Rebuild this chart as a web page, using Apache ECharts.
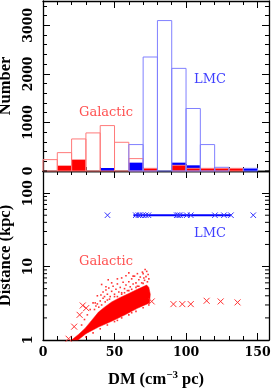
<!DOCTYPE html>
<html><head><meta charset="utf-8">
<script src="https://cdn.jsdelivr.net/npm/echarts@6/dist/echarts.min.js"></script>
<style>html,body{margin:0;padding:0;background:#fff}#c{width:273px;height:390px}</style>
</head><body><div id="c"></div>
<script>
// ---- data ----
const binStarts = [0,10,20,30,40,50,60,70,80,90,100,110,120,130,140,150];
const binWidth = 10;
const galacticTotal = [234,378,660,784,935,591,255,55,0,117,55,55,55,55,0,0];
const lmcTotal      = [0,0,0,0,0,0,544,2347,3097,2113,1287,544,76,0,55,0];
const galacticKnown = [0,110,234,0,0,0,0,55,0,117,55,55,55,55,0,0];
const lmcKnown      = [0,0,0,0,62,0,172,0,0,172,117,0,0,0,55,0];

// bottom panel
const galacticCloudOutline = [
  [20,1.0],[25,1.2],[29.5,1.45],[34,1.85],[38.8,2.4],[43,2.8],[48,3.3],[54,3.8],[60,4.3],[66,4.9],[72.5,5.6],[74,5.2],
  [75,4.2],[74.5,3.2],[66,2.7],[57.4,2.2],[48,1.8],[38.8,1.5],[30,1.22],[24.5,1.0]
];
const galacticDots = [
  [36,2.6],[37,2.9],[38,3.1],[39,2.8],[40,3.4],[41,3.0],[42,3.7],[36.5,3.2],
  [40.5,4.1],[42,4.5],[43,3.9],[44,4.8],[45,4.2],[46,5.1],[47,3.9],[48,4.6],[49,5.4],[50,4.2],[51,4.9],[52,5.8],
  [53,4.5],[54,5.2],[55,4.4],[56,6.1],[57,5.0],[58,5.6],[59,4.7],
  [60,6.2],[61,5.3],[62,6.8],[63,5.8],[64,7.4],[65,6.0],[66,5.4],[67,6.6],[68,7.2],[69,6.0],[70,8.0],[71,6.5],
  [72,7.3],[73,6.2],[73.5,7.8],[74,6.8],[72.5,8.6],[71.4,9.1],[70.5,7.0],[69.5,8.4],
  [41,5.7],[45.6,6.6],[55,7.0],[63,7.4],[48,6.0],[52,6.8],[58,7.5],[60,8.2],[66,8.0],[44,5.3],[38,4.0],[35,3.2],
  [33,2.6],[31,2.2],[29,1.9],[27,1.6],
  [45,3.5],[50,3.9],[55,4.2],[60,4.7],[65,5.2],[70,5.9],[52,3.9],[57,4.4],[62,4.9],[67,5.4],[46.5,3.6],[43.5,3.3],
  [30,1.1],[35,1.25],[40,1.42],[45,1.6],[50,1.78],[55,2.0],[60,2.2],[65,2.45],[70,2.75],[74,3.0],[62,2.35],[52,1.85]
];
const galacticCrosses = [[17.9,1.04],[21.8,1.52],[25.6,2.2],[27.8,2.95],[30.2,2.72],[76,3.35],[91.2,3.08],[97.4,3.08],[103.3,3.08],[114.4,3.42],[124.2,3.35],[136,3.25]];
const lmcLine = [[63.2,50],[131.4,50]];
const lmcCrosses = [[45.1,50],[64.9,50],[66.7,50],[67.9,50],[69.8,50],[71.9,50],[73.7,50],[93.5,50],[94.6,50],[95.8,50],[100.5,50],[103.3,50],[120.2,50],[126.5,50],[131.4,50],[147,50]];
const logMinorTicks = [2,3,4,5,6,7,8,9,20,30,40,50,60,70,80,90,200];

// ---- styles ----
const RED='#ff0000', BLUE='#0000ff', REDL='#ff7a7a', BLUEL='#8080ff';
const tickFont = {fontFamily:'DejaVu Serif', fontWeight:'bold', fontSize:12.5, color:'#000'};
const titleFont = {fontFamily:'Liberation Serif', fontWeight:'bold', fontSize:16.5, color:'#000'};
const XMAX=158;
const plain = v => String(v);

function histSeries(vals, fill, stroke, z){
  return {type:'custom', xAxisIndex:0, yAxisIndex:0, z:z, silent:true,
    data: binStarts.map((b,i)=>[b, vals[i]]).filter(d=>d[1]>0),
    renderItem:function(params, api){
      const x0=api.value(0), v=api.value(1);
      const p0=api.coord([x0, v]), p1=api.coord([x0+binWidth, 0]);
      return {type:'rect', shape:{x:p0[0], y:p0[1], width:p1[0]-p0[0], height:p1[1]-p0[1]},
        style:{fill: fill||'none', stroke: stroke||'none', lineWidth:1}};
    }};
}
function crossSeries(data, color, size){
  return {type:'custom', xAxisIndex:2, yAxisIndex:2, z:5, silent:true, data:data,
    renderItem:function(params, api){
      const p=api.coord([api.value(0), api.value(1)]); const s=size/2;
      return {type:'group', children:[
        {type:'line', shape:{x1:p[0]-s,y1:p[1]-s,x2:p[0]+s,y2:p[1]+s}, style:{stroke:color, lineWidth:1}},
        {type:'line', shape:{x1:p[0]-s,y1:p[1]+s,x2:p[0]+s,y2:p[1]-s}, style:{stroke:color, lineWidth:1}}
      ]};
    }};
}
function frameAxis(o){
  return Object.assign({
    axisLine:{show:true, onZero:false, lineStyle:{color:'#000', width:1.3}},
    axisTick:{show:true, inside:true, length:7, lineStyle:{color:'#000', width:1}},
    minorTick:{show:true, splitNumber:5, length:4, lineStyle:{color:'#000', width:1}},
    splitLine:{show:false}, axisLabel:{show:false}
  }, o);
}

const grids = [
  {left:43, top:1, width:226, height:170, outerBoundsMode:'none', containLabel:false},
  {left:43, top:171, width:226, height:169, outerBoundsMode:'none', containLabel:false}
];
const xCommon = {type:'value', min:0, max:XMAX, interval:50};
const option = {
  animation:false,
  grid: grids,
  xAxis: [
    frameAxis(Object.assign({gridIndex:0, position:'bottom'}, xCommon)),
    frameAxis(Object.assign({gridIndex:0, position:'top'}, xCommon)),
    frameAxis(Object.assign({gridIndex:1, position:'bottom',
      axisLabel:Object.assign({show:true, margin:6, showMaxLabel:false, formatter:plain}, tickFont),
      name:'DM (cm{sup|−3} pc)', nameLocation:'middle', nameGap:30,
      nameTextStyle:Object.assign({rich:{sup:{fontFamily:'Liberation Serif', fontWeight:'bold', fontSize:11, verticalAlign:'top', padding:[0,0,9,0]}}}, titleFont)
    }, xCommon)),
    frameAxis(Object.assign({gridIndex:1, position:'top'}, xCommon))
  ],
  yAxis: [
    frameAxis({gridIndex:0, type:'value', min:0, max:3500, interval:1000, position:'left',
      axisLabel:Object.assign({show:true, rotate:90, margin:8, showMaxLabel:false, showMinLabel:true, formatter:plain}, tickFont),
      name:'Number', nameLocation:'middle', nameGap:29, nameRotate:90, nameTextStyle:titleFont}),
    frameAxis({gridIndex:0, type:'value', min:0, max:3500, interval:1000, position:'right'}),
    frameAxis({gridIndex:1, type:'log', logBase:10, min:1, max:200, position:'left',
      minorTick:{show:false},
      axisLabel:Object.assign({show:true, rotate:90, margin:8, showMaxLabel:false, formatter:plain}, tickFont),
      name:'Distance (kpc)', nameLocation:'middle', nameGap:29, nameRotate:90, nameTextStyle:titleFont}),
    frameAxis({gridIndex:1, type:'log', logBase:10, min:1, max:200, position:'right', minorTick:{show:false}})
  ],
  series: [
    histSeries(lmcKnown, BLUE, null, 2),
    histSeries(galacticKnown, RED, null, 3),
    histSeries(galacticTotal, null, REDL, 4),
    histSeries(lmcTotal, null, BLUEL, 4),
    // log minor ticks
    {type:'custom', xAxisIndex:2, yAxisIndex:2, z:6, silent:true, data:logMinorTicks.map(v=>[0,v]),
      renderItem:function(params, api){
        const a=api.coord([0, api.value(1)]), b=api.coord([XMAX, api.value(1)]);
        return {type:'group', children:[
          {type:'line', shape:{x1:a[0],y1:a[1],x2:a[0]+4,y2:a[1]}, style:{stroke:'#000', lineWidth:1}},
          {type:'line', shape:{x1:b[0],y1:b[1],x2:b[0]-4,y2:b[1]}, style:{stroke:'#000', lineWidth:1}}
        ]};
      }},
    // galactic cloud core
    {type:'custom', xAxisIndex:2, yAxisIndex:2, z:3, silent:true, data:[0],
      renderItem:function(params, api){
        if (params.dataIndex!==0) return;
        const pts = galacticCloudOutline.map(p=>api.coord(p));
        return {type:'polygon', shape:{points:pts}, style:{fill:RED, stroke:RED, lineWidth:0.5}};
      }},
    {type:'scatter', xAxisIndex:2, yAxisIndex:2, z:3, silent:true, symbol:'rect', symbolSize:1.6,
      itemStyle:{color:RED}, data:galacticDots},
    {type:'line', xAxisIndex:2, yAxisIndex:2, z:4, silent:true, symbol:'none',
      lineStyle:{color:BLUE, width:2}, data:lmcLine},
    crossSeries(galacticCrosses, '#ff3030', 6),
    crossSeries(lmcCrosses, '#3030ff', 5.5)
  ],
  graphic: [
    {type:'text', left:79, top:106, style:{text:'Galactic', fill:'#ff5050', font:'13px "DejaVu Serif"'}},
    {type:'text', left:194, top:73, style:{text:'LMC', fill:'#4040ff', font:'13px "DejaVu Serif"'}},
    {type:'text', left:79, top:255, style:{text:'Galactic', fill:'#ff5050', font:'13px "DejaVu Serif"'}},
    {type:'text', left:194, top:227, style:{text:'LMC', fill:'#4040ff', font:'13px "DejaVu Serif"'}}
  ]
};
const chart = echarts.init(document.getElementById('c'), null, {renderer:'canvas'});
chart.setOption(option);
</script></body></html>
